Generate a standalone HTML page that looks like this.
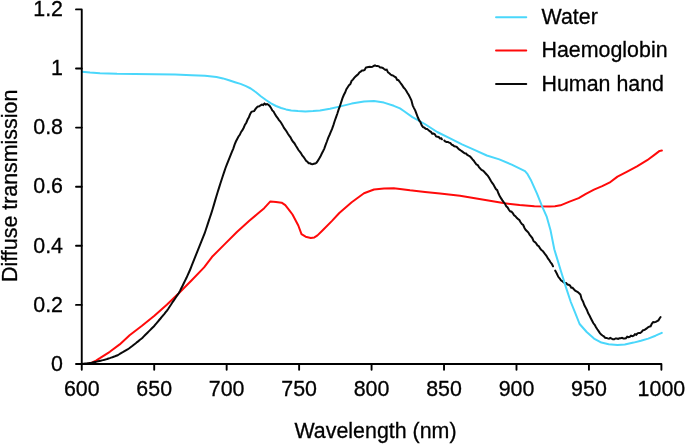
<!DOCTYPE html>
<html><head><meta charset="utf-8"><title>Diffuse transmission</title>
<style>
html,body{margin:0;padding:0;background:#fff;}
body{width:685px;height:444px;overflow:hidden;}
svg{display:block;}
text{font-family:"Liberation Sans",sans-serif;font-size:21.4px;fill:#000;stroke:#000;stroke-width:0.3px;}
</style></head><body>
<svg width="685" height="444" viewBox="0 0 685 444">
<rect width="685" height="444" fill="#fff"/>
<path d="M82.5,364.0 L88.0,363.8 L92.4,362.5 L96.0,360.6 L99.9,358.2 L109.8,351.8 L119.7,344.4 L129.6,335.2 L142.0,325.8 L154.4,315.8 L166.8,304.7 L179.3,292.8 L191.7,280.3 L204.1,267.4 L212.1,256.8 L224.5,244.4 L236.9,232.0 L249.3,220.8 L257.0,214.3 L264.2,208.2 L270.4,201.4 L276.0,201.9 L281.6,202.7 L285.3,205.2 L289.0,209.8 L292.5,214.5 L298.3,225.5 L301.5,234.2 L305.6,236.7 L310.8,238.0 L314.4,237.4 L317.5,235.4 L323.2,229.7 L332.0,220.9 L339.3,213.0 L351.7,202.2 L364.0,193.3 L374.0,189.5 L384.0,188.6 L393.8,188.3 L402.0,189.2 L410.0,190.3 L425.0,192.0 L440.0,193.6 L460.0,195.8 L474.9,198.3 L489.8,200.8 L504.7,203.3 L519.6,205.0 L534.4,206.3 L549.3,206.5 L555.0,206.2 L560.5,205.3 L569.5,201.6 L578.7,198.1 L585.9,193.8 L594.0,189.7 L602.2,186.2 L609.4,182.7 L617.5,176.6 L626.7,171.9 L637.0,166.4 L647.2,160.2 L655.4,154.1 L659.6,150.9 L661.9,150.6" fill="none" stroke="#FF0A0A" stroke-width="2" stroke-linejoin="round" stroke-linecap="round"/>
<path d="M555.2,270.6 L555.7,271.4 L557.0,274.0 L558.3,276.8 L559.6,278.3 L560.9,280.3 L562.2,281.0 L563.5,282.3 L564.8,283.1 L566.1,283.1 L567.4,284.5 L568.7,284.8 L570.0,285.5 L571.3,287.8 L572.6,287.8 L573.9,289.3 L575.2,290.7 L576.5,291.4 L577.8,292.1 L579.1,293.3 L580.4,294.6 L581.7,299.2 L583.0,301.5 L584.3,305.1 L585.6,307.4 L586.9,310.0 L588.2,313.4 L589.5,315.5 L590.8,318.2 L592.1,320.8 L593.4,323.3 L594.7,324.8 L596.0,327.3 L597.3,329.3 L598.6,331.1 L599.9,333.1 L601.2,334.5 L602.5,335.5 L603.8,336.3 L605.1,337.7 L606.4,337.9 L607.7,338.4 L609.0,338.7 L610.3,337.9 L611.6,338.6 L612.9,339.3 L614.2,339.3 L615.5,338.5 L616.8,338.6 L618.1,339.0 L619.4,338.3 L620.7,338.3 L622.0,337.9 L623.3,338.5 L624.6,338.4 L625.9,338.2 L627.2,336.8 L628.5,337.3 L629.8,336.8 L631.1,335.6 L632.4,336.1 L633.7,335.7 L635.0,334.2 L636.3,334.7 L637.6,333.3 L638.9,332.9 L640.2,333.0 L641.5,332.1 L642.8,330.4 L644.1,330.0 L645.4,329.4 L646.7,328.4 L648.0,327.3 L649.3,326.6 L650.6,326.3 L651.9,323.6 L653.2,322.1 L654.5,322.3 L655.8,321.9 L657.1,321.1 L658.4,320.4 L659.7,318.3 L660.6,317.0" fill="none" stroke="#0a0a0a" stroke-width="2" stroke-linejoin="miter" stroke-miterlimit="3" stroke-linecap="round"/>
<path d="M82.0,71.8 L90.0,72.6 L100.0,73.2 L117.0,73.8 L135.0,74.0 L154.4,74.2 L175.0,74.6 L191.7,75.2 L205.0,75.8 L216.5,77.1 L223.0,78.4 L229.0,80.2 L235.0,82.2 L240.5,83.9 L246.0,86.2 L250.7,88.5 L256.0,92.3 L260.8,96.2 L266.0,100.0 L271.0,103.3 L276.0,106.0 L281.1,108.0 L286.0,109.4 L291.2,110.4 L298.0,111.1 L305.4,111.4 L313.0,111.1 L320.0,110.4 L330.0,108.8 L339.3,106.6 L351.7,103.6 L364.0,101.6 L374.0,101.1 L383.9,102.6 L393.8,105.8 L400.0,108.4 L403.8,111.0 L412.4,117.1 L424.8,124.0 L437.2,132.0 L449.6,138.2 L462.0,144.4 L474.4,149.8 L486.8,155.5 L499.3,159.4 L511.7,164.6 L525.0,171.2 L527.6,174.2 L530.7,179.7 L536.9,193.3 L541.9,205.8 L546.8,216.9 L550.6,230.6 L554.3,249.2 L556.0,254.9 L560.9,271.0 L565.9,287.1 L570.8,302.0 L575.4,313.4 L579.6,324.0 L586.7,332.0 L594.0,338.6 L601.4,342.6 L608.7,344.2 L617.5,344.9 L624.8,344.4 L633.6,342.6 L640.9,340.8 L648.2,338.6 L655.5,335.7 L661.8,332.8" fill="none" stroke="#4AD7FB" stroke-width="2" stroke-linejoin="round" stroke-linecap="round"/>
<path d="M82.5,363.8 L83.8,363.7 L85.1,363.5 L86.4,363.4 L87.7,363.2 L89.0,363.1 L90.3,362.9 L91.6,362.7 L92.9,362.4 L94.2,362.1 L95.5,361.9 L96.8,361.6 L98.1,361.3 L99.4,361.0 L100.7,360.7 L102.0,360.4 L103.3,360.1 L104.6,359.8 L105.9,359.4 L107.2,359.0 L108.5,358.5 L109.8,358.1 L111.1,357.6 L112.4,357.2 L113.7,356.7 L115.0,356.3 L116.3,355.8 L117.6,355.3 L118.9,354.5 L120.2,353.7 L121.5,352.9 L122.8,352.2 L124.1,351.4 L125.4,350.6 L126.7,349.8 L128.0,349.1 L129.3,348.3 L130.6,347.3 L131.9,346.3 L133.2,345.2 L134.5,344.2 L135.8,343.2 L137.1,342.1 L138.4,341.1 L139.7,340.0 L141.0,339.0 L142.3,337.9 L143.6,336.6 L144.9,335.3 L146.2,334.0 L147.5,332.7 L148.8,331.4 L150.1,330.1 L151.4,328.8 L152.7,327.5 L154.0,326.2 L155.3,324.7 L156.6,323.2 L157.9,321.6 L159.2,320.0 L160.5,318.5 L161.8,316.9 L163.1,315.3 L164.4,313.8 L165.7,312.2 L167.0,310.6 L168.3,308.7 L169.6,306.7 L170.9,304.8 L172.2,302.8 L173.5,300.9 L174.8,299.0 L176.1,297.0 L177.4,295.1 L178.7,293.2 L180.0,290.9 L181.3,288.3 L182.6,285.7 L183.9,283.0 L185.2,280.4 L186.5,277.8 L187.8,274.9 L189.1,272.0 L190.4,269.0 L191.7,265.7 L193.0,262.4 L194.3,259.1 L195.6,255.8 L196.9,252.6 L198.2,249.3 L199.5,246.1 L200.8,242.9 L202.1,239.6 L203.4,236.4 L204.7,233.2 L206.0,229.3 L207.3,225.4 L208.6,221.4 L209.9,217.5 L211.2,213.6 L212.5,209.5 L213.8,205.1 L215.1,200.6 L216.4,196.2 L217.7,192.0 L219.0,187.9 L220.3,183.8 L221.6,179.7 L222.9,175.8 L224.2,171.9 L225.5,168.0 L226.8,164.6 L228.1,161.3 L229.4,158.1 L230.7,154.8 L232.0,151.7 L233.3,148.6 L234.6,144.6 L235.9,141.5 L237.2,139.0 L238.5,136.5 L239.8,134.8 L241.1,131.9 L242.4,130.2 L243.7,127.7 L245.0,124.7 L246.3,122.7 L247.6,119.5 L248.9,117.2 L250.2,113.9 L251.5,111.8 L252.8,111.4 L254.1,111.1 L255.4,109.1 L256.7,107.5 L258.0,106.5 L259.3,106.3 L260.6,105.3 L261.9,104.6 L263.2,105.0 L264.5,103.5 L265.8,104.5 L267.1,104.0 L268.4,104.7 L269.7,105.9 L271.0,107.9 L272.3,110.4 L273.6,111.6 L274.9,114.1 L276.2,116.1 L277.5,117.8 L278.8,119.9 L280.1,121.3 L281.4,123.3 L282.7,125.4 L284.0,128.0 L285.3,129.6 L286.6,131.5 L287.9,133.8 L289.2,135.6 L290.5,137.3 L291.8,139.9 L293.1,141.8 L294.4,143.2 L295.7,145.5 L297.0,147.4 L298.3,149.8 L299.6,151.5 L300.9,153.1 L302.2,155.4 L303.5,156.9 L304.8,158.8 L306.1,160.8 L307.4,161.8 L308.7,163.2 L310.0,163.3 L311.3,164.0 L312.6,164.3 L313.9,163.8 L315.2,163.6 L316.5,162.7 L317.8,160.9 L319.1,158.8 L320.4,156.6 L321.7,153.8 L323.0,151.3 L324.3,148.6 L325.6,144.9 L326.9,141.5 L328.2,137.8 L329.5,135.0 L330.8,131.9 L332.1,128.9 L333.4,125.1 L334.7,121.0 L336.0,117.4 L337.3,113.8 L338.6,109.7 L339.9,106.2 L341.2,102.1 L342.5,98.2 L343.8,95.0 L345.1,92.5 L346.4,89.2 L347.7,87.2 L349.0,85.3 L350.3,84.2 L351.6,80.9 L352.9,79.6 L354.2,77.8 L355.5,76.5 L356.8,75.4 L358.1,74.4 L359.4,72.4 L360.7,71.6 L362.0,70.5 L363.3,70.6 L364.6,69.9 L365.9,67.6 L367.2,67.3 L368.5,67.0 L369.8,66.7 L371.1,66.9 L372.4,66.8 L373.7,66.0 L375.0,65.4 L376.3,66.1 L377.6,66.0 L378.9,66.3 L380.2,67.5 L381.5,67.6 L382.8,68.0 L384.1,69.0 L385.4,69.9 L386.7,69.6 L388.0,72.4 L389.3,73.3 L390.6,74.5 L391.9,75.3 L393.2,75.6 L394.5,76.7 L395.8,77.3 L397.1,79.8 L398.4,80.2 L399.7,81.8 L401.0,83.7 L402.3,85.4 L403.6,87.5 L404.9,88.8 L406.2,90.7 L407.5,93.0 L408.8,95.0 L410.1,97.6 L411.4,100.3 L412.7,105.3 L414.0,108.1 L415.3,110.6 L416.6,114.1 L417.9,117.5 L419.2,120.4 L420.5,122.3 L421.8,125.5 L423.1,127.1 L424.4,127.7 L425.7,128.8 L427.0,129.0 L428.3,129.9 L429.6,131.2 L430.9,131.9 L432.2,133.6 L433.5,133.5 L434.8,134.2 L436.1,136.4 L437.4,136.7 L438.7,137.0 L440.0,138.4 L441.3,138.3 L441.9,139.3 M444.3,140.5 L445.2,141.5 L446.5,141.9 L447.8,141.9 L449.1,142.7 L450.4,143.1 L451.7,144.7 L453.0,145.2 L454.3,146.3 L455.6,146.4 L456.9,147.0 L458.2,148.6 L459.5,149.7 L460.8,150.5 L462.1,151.4 L463.4,152.4 L464.7,153.3 L466.0,153.5 L467.3,155.0 L468.6,155.7 L469.9,156.3 L471.2,157.7 L472.5,159.4 L473.8,160.7 L475.1,162.7 L476.4,164.5 L477.7,165.0 L479.0,167.1 L480.3,168.6 L481.6,170.0 L482.9,170.6 L484.2,171.8 L485.5,173.3 L486.8,174.7 L488.1,176.2 L489.4,178.2 L490.7,180.6 L492.0,182.7 L493.3,184.3 L494.6,186.7 L495.9,189.1 L497.2,190.2 L498.5,193.5 L499.8,196.3 L501.1,198.4 L502.4,200.4 L503.7,202.2 L505.0,203.7 L506.3,206.4 L507.6,207.4 L508.9,209.8 L510.2,211.3 L511.5,211.7 L512.8,213.1 L514.1,215.2 L515.4,216.2 L516.7,217.8 L518.0,218.9 L519.3,220.0 L520.6,222.3 L521.9,224.1 L523.2,225.0 L524.5,228.0 L525.8,230.0 L527.1,231.3 L528.4,232.6 L529.7,234.9 L531.0,236.3 L532.3,238.1 L533.6,241.2 L534.9,242.1 L536.2,243.4 L537.5,245.5 L538.8,246.2 L540.1,248.5 L541.4,250.1 L542.7,250.9 L544.0,252.7 L545.3,254.5 L546.6,256.1 L547.9,258.5 L549.2,260.1 L550.5,262.3 L551.8,263.9 L553.0,266.3" fill="none" stroke="#0a0a0a" stroke-width="2" stroke-linejoin="miter" stroke-miterlimit="3" stroke-linecap="round"/>
<g stroke="#000" stroke-width="1.9" fill="none" stroke-linecap="round" stroke-linejoin="round">
<path d="M76.0,9.4 H81.75 V369.7"/>
<path d="M76.0,364.0 H661.4 V369.7"/>
<path d="M76.0,304.90 H81.75"/>
<path d="M76.0,245.80 H81.75"/>
<path d="M76.0,186.70 H81.75"/>
<path d="M76.0,127.60 H81.75"/>
<path d="M76.0,68.50 H81.75"/>
<path d="M154.21,364.0 V369.7"/>
<path d="M226.66,364.0 V369.7"/>
<path d="M299.12,364.0 V369.7"/>
<path d="M371.57,364.0 V369.7"/>
<path d="M444.03,364.0 V369.7"/>
<path d="M516.49,364.0 V369.7"/>
<path d="M588.94,364.0 V369.7"/>
</g>
<path d="M496,17.2 H526.3" stroke="#4AD7FB" stroke-width="1.9" stroke-linecap="round"/>
<path d="M496,50.5 H526.3" stroke="#FF0A0A" stroke-width="1.9" stroke-linecap="round"/>
<path d="M496,84.0 H526.3" stroke="#0a0a0a" stroke-width="1.9" stroke-linecap="round"/>
<g style="filter:grayscale(1)">
<text transform="translate(63.00,370.70) scale(1,1.055)" text-anchor="end">0</text>
<text transform="translate(63.00,311.60) scale(1,1.055)" text-anchor="end">0.2</text>
<text transform="translate(63.00,252.50) scale(1,1.055)" text-anchor="end">0.4</text>
<text transform="translate(63.00,193.40) scale(1,1.055)" text-anchor="end">0.6</text>
<text transform="translate(63.00,134.30) scale(1,1.055)" text-anchor="end">0.8</text>
<text transform="translate(63.00,75.20) scale(1,1.055)" text-anchor="end">1</text>
<text transform="translate(63.00,16.10) scale(1,1.055)" text-anchor="end">1.2</text>
<text transform="translate(81.75,396.20) scale(1,1.055)" text-anchor="middle">600</text>
<text transform="translate(154.21,396.20) scale(1,1.055)" text-anchor="middle">650</text>
<text transform="translate(226.66,396.20) scale(1,1.055)" text-anchor="middle">700</text>
<text transform="translate(299.12,396.20) scale(1,1.055)" text-anchor="middle">750</text>
<text transform="translate(371.57,396.20) scale(1,1.055)" text-anchor="middle">800</text>
<text transform="translate(444.03,396.20) scale(1,1.055)" text-anchor="middle">850</text>
<text transform="translate(516.49,396.20) scale(1,1.055)" text-anchor="middle">900</text>
<text transform="translate(588.94,396.20) scale(1,1.055)" text-anchor="middle">950</text>
<text transform="translate(661.40,396.20) scale(1,1.055)" text-anchor="middle">1000</text>
<text transform="translate(375.50,438.50) scale(1,1.055)" text-anchor="middle">Wavelength (nm)</text>
<text transform="translate(16.80,185.80) rotate(-90) scale(1,1.055)" text-anchor="middle">Diffuse transmission</text>
<text transform="translate(541.50,23.90) scale(1,1.055)" text-anchor="start">Water</text>
<text transform="translate(541.50,57.20) scale(1,1.055)" text-anchor="start">Haemoglobin</text>
<text transform="translate(541.50,90.70) scale(1,1.055)" text-anchor="start">Human hand</text>
</g>
</svg></body></html>
